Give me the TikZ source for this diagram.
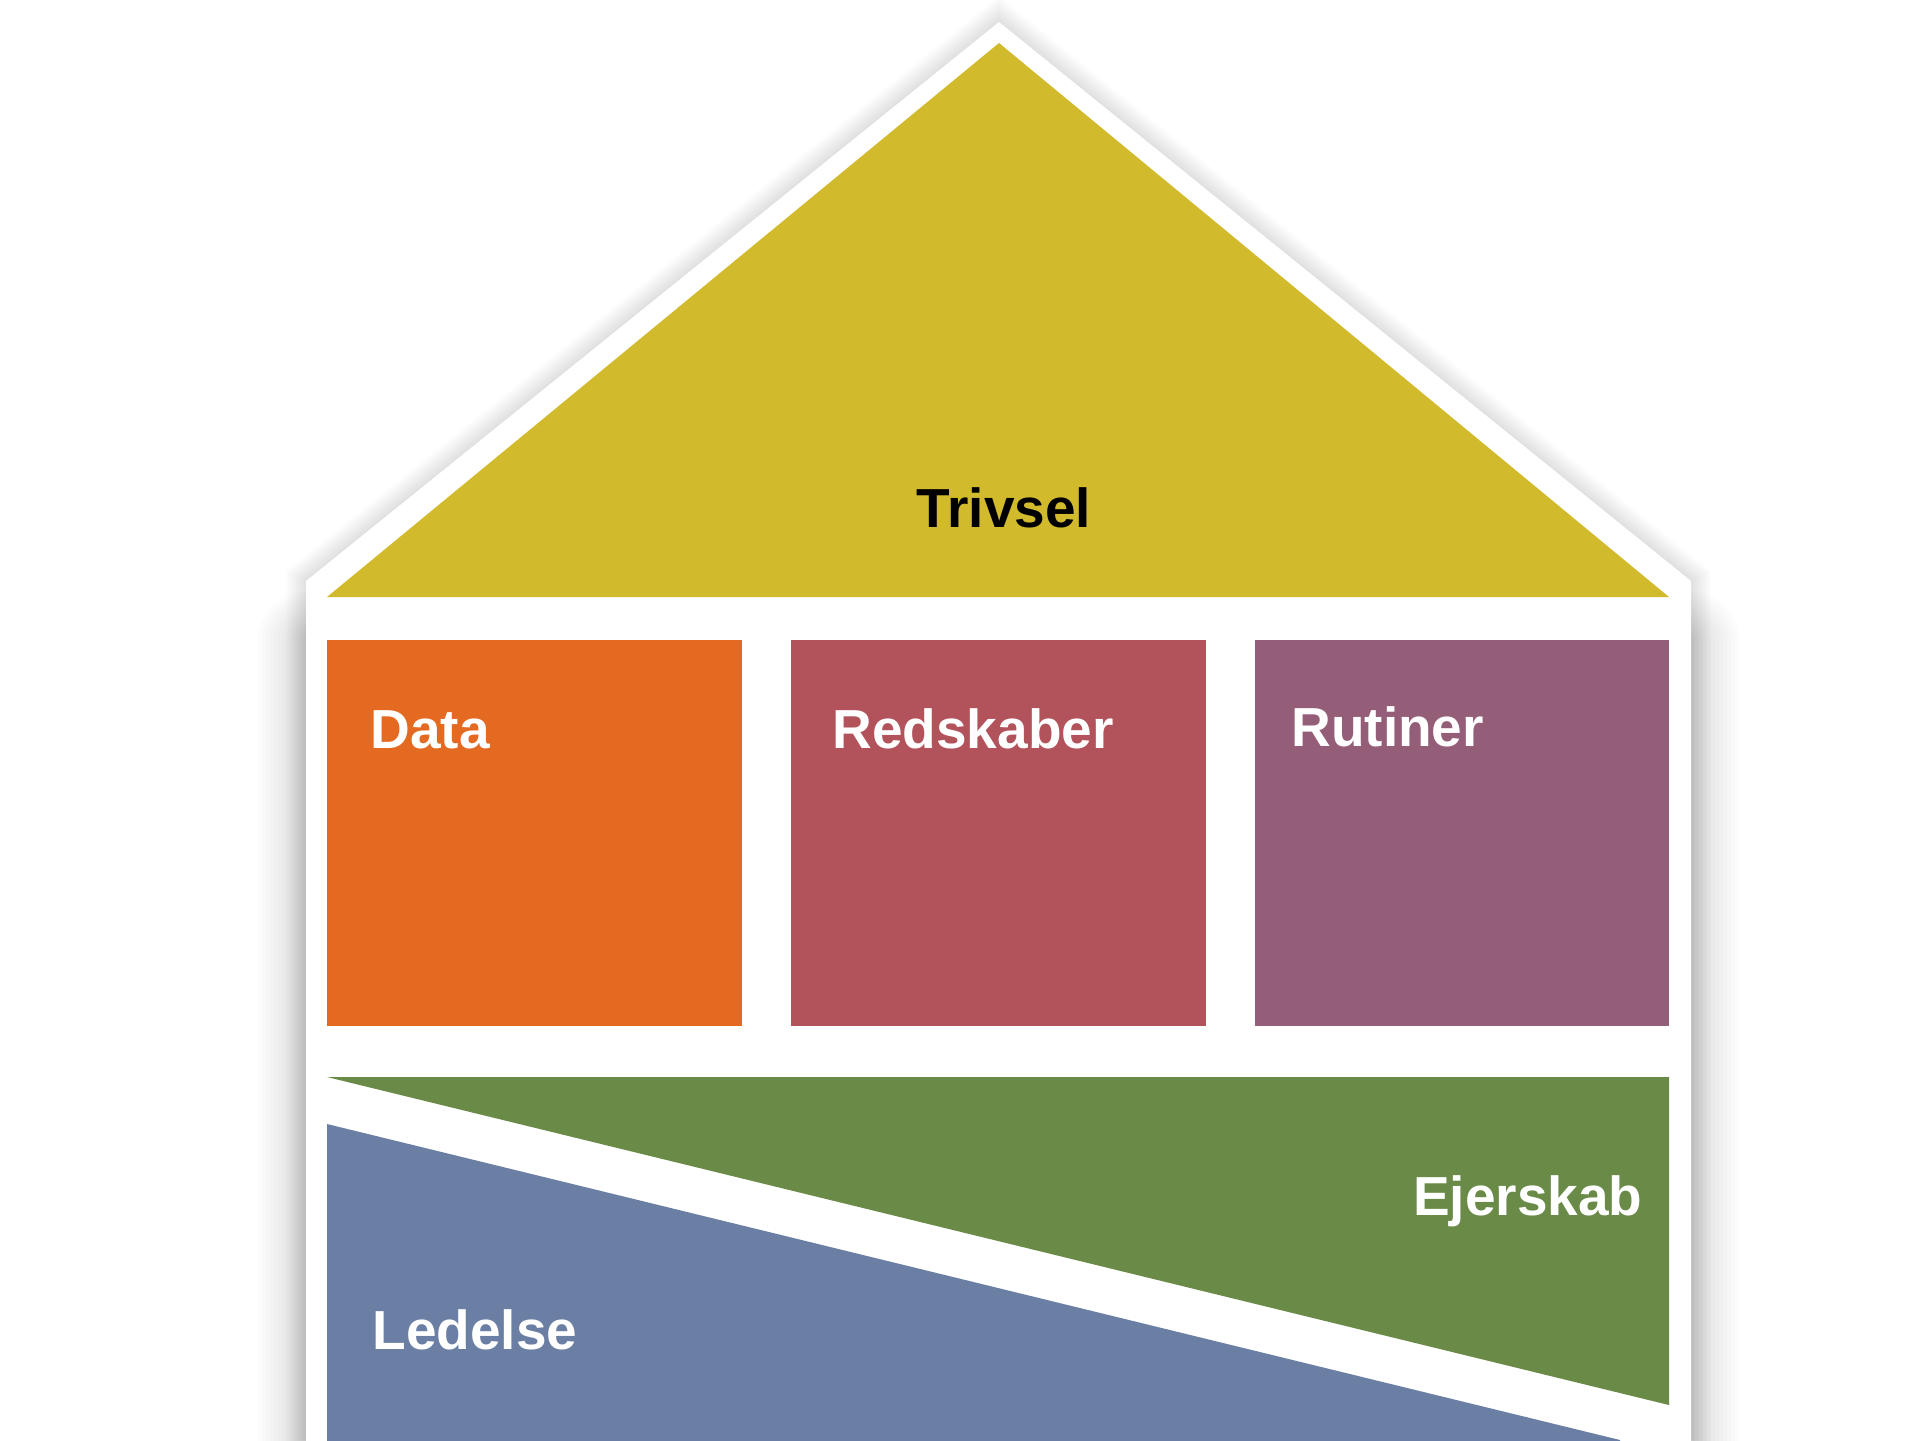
\documentclass[tikz,border=0pt]{standalone}
\usepackage{fontspec}
\setmainfont{Liberation Sans}
\definecolor{cyellow}{HTML}{D1BA2C}
\definecolor{corange}{HTML}{E46A21}
\definecolor{cred}{HTML}{B2525B}
\definecolor{cpurple}{HTML}{955E78}
\definecolor{cgreen}{HTML}{6A8A47}
\definecolor{cblue}{HTML}{6A7FA3}
\tikzset{
  lbl/.style={inner sep=0pt, font=\fontsize{27.5pt}{33pt}\selectfont\bfseries, text=white},
  shadowline/.style={draw=black, opacity=0.012, line join=miter, fill=none},
}
\begin{document}
\begin{tikzpicture}[x=0.5pt, y=-0.5pt]
\useasboundingbox (0,0) rectangle (1920,1440);
\clip (0,0) rectangle (1920,1440);
\fill[white] (0,0) rectangle (1920,1440);
% light shadow of the whole outline
\foreach \w in {4,8,...,40} {
  \draw[shadowline, line width=\w*0.5pt] (306,1500) -- (306,581) -- (999,22) -- (1691,581) -- (1691,1500);
}
% stronger shadow along the walls
\foreach \w in {8,16,...,96} {
  \draw[shadowline, opacity=0.01, line cap=round, line width=\w*0.5pt] (306,1500) -- (306,640);
  \draw[shadowline, opacity=0.01, line cap=round, line width=\w*0.5pt] (1691,640) -- (1691,1500);
}
% white house
\fill[white] (306,1500) -- (306,581) -- (999,22) -- (1691,581) -- (1691,1500) -- cycle;
% roof
\fill[cyellow] (327,597) -- (999,43) -- (1669,597) -- cycle;
% pillars
\fill[corange] (327,640) rectangle (742,1026);
\fill[cred] (791,640) rectangle (1206,1026);
\fill[cpurple] (1255,640) rectangle (1669,1026);
% foundation
\fill[cgreen] (327,1077) -- (1669,1077) -- (1669,1405) -- cycle;
\fill[cblue] (327,1124) -- (1620,1440) -- (1620,1460) -- (327,1460) -- cycle;
% labels
\node[lbl, text=black, anchor=base] (trivsel) at (1004,527) {Trivsel};
\node[lbl, anchor=base west] (data) at (370,748) {Data};
\node[lbl, anchor=base west] (redskaber) at (832,748) {Redskaber};
\node[lbl, anchor=base west] (rutiner) at (1291,746) {Rutiner};
\node[lbl, anchor=base east] (ejerskab) at (1643,1215) {Ejerskab};
\node[lbl, anchor=base west] (ledelse) at (372,1349) {Ledelse};
\end{tikzpicture}
\end{document}
